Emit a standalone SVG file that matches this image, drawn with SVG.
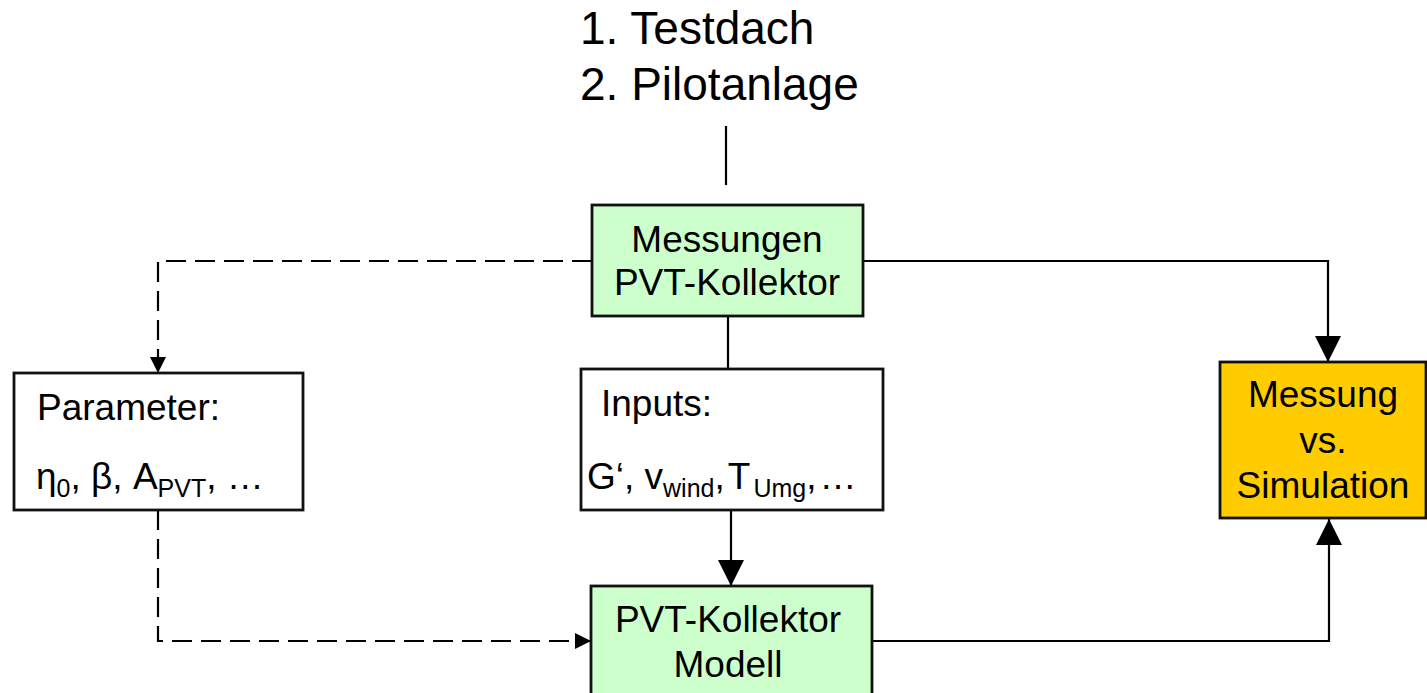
<svg xmlns="http://www.w3.org/2000/svg" width="1427" height="693" viewBox="0 0 1427 693">
  <defs>
    <style>
      text { font-family: "Liberation Sans", Arial, sans-serif; fill: #000; }
      .t37 { font-size: 37px; }
      .t46 { font-size: 46px; }
      .sub { font-size: 25px; }
      .box { stroke: #111; stroke-width: 2.8; }
      .green { fill: #ccffcc; }
      .white { fill: #fff; }
      .gold { fill: #ffcc00; }
      .line { fill: none; stroke: #000; stroke-width: 2.2; }
      .dash { stroke-dasharray: 20 9; }
      .mid { text-anchor: middle; }
    </style>
    <marker id="arrowBig" viewBox="0 0 26 26" refX="26" refY="13" markerWidth="26" markerHeight="26" markerUnits="userSpaceOnUse" orient="auto">
      <path d="M0,0 L26,13 L0,26 Z" fill="#000"/>
    </marker>
    <marker id="arrowSmall" viewBox="0 0 16 16" refX="16" refY="8" markerWidth="16" markerHeight="16" markerUnits="userSpaceOnUse" orient="auto">
      <path d="M0,0 L16,8 L0,16 Z" fill="#000"/>
    </marker>
  </defs>

  <rect width="1427" height="693" fill="#fff"/>

  <!-- heading -->
  <g id="heading">
    <text class="t46" x="580" y="44">1. Testdach</text>
    <text class="t46" x="580" y="100">2. Pilotanlage</text>
  </g>

  <!-- connectors -->
  <g id="connectors">
    <path class="line" d="M726,126 V185"/>
    <path class="line" d="M863,261 H1328 V362" marker-end="url(#arrowBig)"/>
    <path class="line dash" d="M592,261 H158 V373" marker-end="url(#arrowSmall)"/>
    <path class="line" d="M728,316 V369"/>
    <path class="line" d="M731,510 V586" marker-end="url(#arrowBig)"/>
    <path class="line dash" d="M158,510 V641 H591" marker-end="url(#arrowSmall)"/>
    <path class="line" d="M872,641 H1329 V519" marker-end="url(#arrowBig)"/>
  </g>

  <g id="messungen">
    <rect class="box green" x="592" y="205" width="271" height="111"/>
    <text class="t37 mid" x="727" y="252">Messungen</text>
    <text class="t37 mid" x="727" y="295">PVT-Kollektor</text>
  </g>

  <g id="parameter">
    <rect class="box white" x="14" y="373" width="289" height="137"/>
    <text class="t37" x="37" y="420">Parameter:</text>
    <text class="t37" x="36" y="489">η<tspan class="sub" dy="8">0</tspan><tspan dy="-8">, β, A</tspan><tspan class="sub" dy="8">PVT</tspan><tspan dy="-8">, …</tspan></text>
  </g>

  <g id="inputs">
    <rect class="box white" x="581" y="369" width="302" height="141"/>
    <text class="t37" x="601" y="416">Inputs:</text>
    <text class="t37" x="587" y="489">G‘, v<tspan class="sub" dy="8">wind</tspan><tspan dy="-8">,</tspan><tspan dx="3">T</tspan><tspan class="sub" dx="3" dy="8">Umg</tspan><tspan dy="-8">,</tspan><tspan dx="3">…</tspan></text>
  </g>

  <g id="vergleich">
    <rect class="box gold" x="1220" y="362" width="206" height="156"/>
    <text class="t37 mid" x="1323" y="407">Messung</text>
    <text class="t37 mid" x="1323" y="453">vs.</text>
    <text class="t37 mid" x="1323" y="498">Simulation</text>
  </g>

  <g id="modell">
    <rect class="box green" x="591" y="586" width="281" height="120"/>
    <text class="t37 mid" x="728" y="632">PVT-Kollektor</text>
    <text class="t37 mid" x="728" y="677">Modell</text>
  </g>
</svg>
